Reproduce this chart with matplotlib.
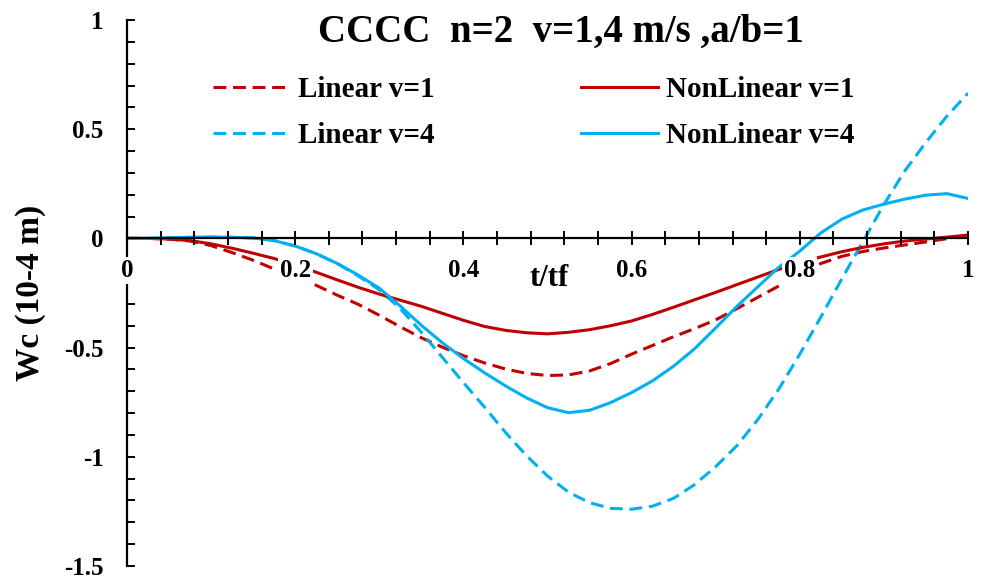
import matplotlib
matplotlib.use("Agg")
import matplotlib.pyplot as plt
from matplotlib.ticker import MultipleLocator, FixedLocator

# Normalised time t/tf
t = [0.000, 0.025, 0.050, 0.075, 0.100, 0.125, 0.150, 0.175, 0.200, 0.225,
     0.250, 0.275, 0.300, 0.325, 0.350, 0.375, 0.400, 0.425, 0.450, 0.475,
     0.500, 0.525, 0.550, 0.575, 0.600, 0.625, 0.650, 0.675, 0.700, 0.725,
     0.750, 0.775, 0.800, 0.825, 0.850, 0.875, 0.900, 0.925, 0.950, 0.975,
     1.000]

# Central deflection Wc (10^-4 m)
linear_v1 = [0.000, 0.000, -0.003, -0.012, -0.033, -0.065, -0.100, -0.140, -0.175, -0.215,
             -0.260, -0.302, -0.352, -0.405, -0.455, -0.498, -0.537, -0.570, -0.598, -0.618,
             -0.628, -0.625, -0.607, -0.573, -0.530, -0.490, -0.450, -0.413, -0.373, -0.322,
             -0.270, -0.218, -0.165, -0.115, -0.082, -0.060, -0.044, -0.030, -0.016, -0.001,
             0.015]

nonlinear_v1 = [0.000, 0.000, -0.003, -0.010, -0.025, -0.045, -0.068, -0.092, -0.122, -0.155,
                -0.190, -0.224, -0.255, -0.283, -0.311, -0.343, -0.375, -0.403, -0.421, -0.432,
                -0.437, -0.430, -0.418, -0.400, -0.378, -0.348, -0.315, -0.281, -0.247, -0.212,
                -0.177, -0.142, -0.111, -0.085, -0.061, -0.041, -0.025, -0.012, -0.003, 0.006,
                0.015]

linear_v4 = [0.000, 0.000, 0.003, 0.005, 0.006, 0.005, 0.002, -0.010, -0.035, -0.070,
             -0.115, -0.172, -0.235, -0.322, -0.430, -0.545, -0.660, -0.772, -0.888, -0.995,
             -1.088, -1.162, -1.210, -1.236, -1.240, -1.226, -1.190, -1.127, -1.045, -0.950,
             -0.830, -0.690, -0.530, -0.360, -0.185, -0.015, 0.155, 0.310, 0.440, 0.560,
             0.665]

nonlinear_v4 = [0.000, 0.000, 0.003, 0.005, 0.006, 0.005, 0.002, -0.010, -0.035, -0.070,
                -0.115, -0.168, -0.228, -0.310, -0.398, -0.478, -0.550, -0.615, -0.675, -0.730,
                -0.775, -0.798, -0.787, -0.752, -0.706, -0.652, -0.585, -0.505, -0.410, -0.312,
                -0.222, -0.132, -0.058, 0.025, 0.088, 0.130, 0.157, 0.180, 0.198, 0.205,
                0.183]

series_labels = ["Linear v=1", "Linear v=4", "NonLinear v=1", "NonLinear v=4"]
x_tick_values = [0, 0.2, 0.4, 0.6, 0.8, 1]
x_tick_labels = ["0", "0.2", "0.4", "0.6", "0.8", "1"]
y_tick_values = [-1.5, -1, -0.5, 0, 0.5, 1]
y_tick_labels = ["-1.5", "-1", "-0.5", "0", "0.5", "1"]

RED = "#C00000"
CYAN = "#00B0F0"
SERIF = ["Liberation Serif", "DejaVu Serif"]

plt.rcParams["font.family"] = SERIF
plt.rcParams["font.weight"] = "bold"

fig = plt.figure(figsize=(9.86, 5.83), dpi=100)
ax = fig.add_axes([127 / 986, 1 - 566 / 583, (968 - 127) / 986, (566 - 20) / 583])

lw = 2.2
dash = (4.2, 2.2)
l1, = ax.plot(t, linear_v1, color=RED, lw=lw, linestyle=(0, dash), label=series_labels[0])
l4, = ax.plot(t, linear_v4, color=CYAN, lw=lw, linestyle=(0, dash), label=series_labels[1])
n1, = ax.plot(t, nonlinear_v1, color=RED, lw=lw, label=series_labels[2])
n4, = ax.plot(t, nonlinear_v4, color=CYAN, lw=lw, label=series_labels[3])

ax.set_xlim(0, 1)
ax.set_ylim(-1.5, 1)

# Axes: left spine at x=0, horizontal axis through y=0
for side in ("top", "right"):
    ax.spines[side].set_visible(False)
ax.spines["bottom"].set_position(("data", 0))
for sp in ("left", "bottom"):
    ax.spines[sp].set_linewidth(1.6)
    ax.spines[sp].set_color("black")

ax.xaxis.set_major_locator(FixedLocator(x_tick_values))
ax.xaxis.set_minor_locator(MultipleLocator(0.04))
ax.set_xticklabels(x_tick_labels)
ax.yaxis.set_major_locator(FixedLocator(y_tick_values))
ax.yaxis.set_minor_locator(MultipleLocator(0.1))
ax.set_yticklabels(y_tick_labels)

ax.tick_params(axis="x", which="both", direction="inout", length=10, width=1.4,
               labelsize=18, pad=10)
ax.tick_params(axis="y", which="both", direction="in", length=6, width=1.4,
               labelsize=18, pad=17)

for lbl in ax.get_xticklabels():
    lbl.set_fontweight("bold")
    lbl.set_bbox(dict(facecolor="white", edgecolor="none", pad=1.5))
for lbl in ax.get_yticklabels():
    lbl.set_fontweight("bold")
ax.xaxis.set_zorder(6)

ax.set_xlabel("t/tf", fontsize=22, fontweight="bold")
ax.xaxis.set_label_coords((549 - 127) / 841, (566 - 278) / 546)
ax.xaxis.label.set_va("center")

ax.set_ylabel("Wc (10-4 m)", fontsize=24, fontweight="bold")
ax.yaxis.set_label_coords((31 - 127) / 841, 0.5)
ax.yaxis.label.set_va("center")

fig.text(561 / 986, 1 - 32 / 583, "CCCC  n=2  v=1,4 m/s ,a/b=1",
         ha="center", va="center", fontsize=28, fontweight="bold")

leg = ax.legend(handles=[l1, l4, n1, n4], ncol=2, frameon=False,
                loc="upper left", bbox_to_anchor=(213 / 986, 1 - 76 / 583),
                bbox_transform=fig.transFigure, borderpad=0, borderaxespad=0,
                handlelength=2.65, handletextpad=0.28, columnspacing=5.0,
                labelspacing=0.65, prop={"size": 21, "weight": "bold", "family": SERIF})

fig.savefig("out.png", dpi=100, facecolor="white")
